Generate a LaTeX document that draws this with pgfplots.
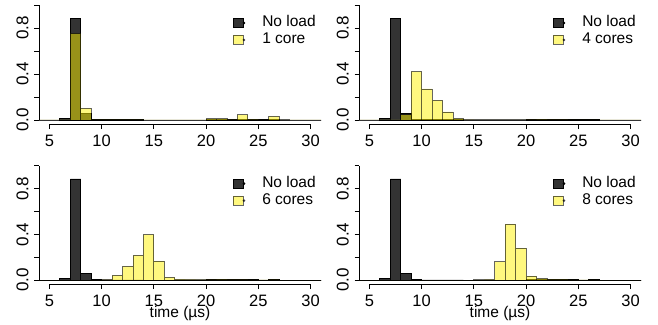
\documentclass[border=0pt]{standalone}
\usepackage{pgfplots}
\pgfplotsset{compat=1.18}
\usepackage{pgfplotstable}
\usepackage{fontspec}
\setmainfont{Liberation Sans}

\pgfplotstableread{
x y
4 0
5 0
6 0.010
7 0.885
8 0.055
9 0.002
10 0.001
11 0.001
12 0.001
13 0.001
14 0
15 0
16 0
17 0
18 0
19 0
20 0.004
21 0.008
22 0.004
23 0.003
24 0.002
25 0.001
26 0.002
27 0
28 0
29 0
30 0
31 0
}\noload

\pgfplotstableread{
x y
4 0
5 0
6 0
7 0.75
8 0.10
9 0
10 0
11 0
12 0
13 0
14 0
15 0
16 0
17 0
18 0
19 0
20 0.010
21 0.010
22 0.003
23 0.045
24 0.006
25 0.002
26 0.032
27 0.002
28 0
29 0
30 0
31 0
}\coreA

\pgfplotstableread{
x y
4 0
5 0
6 0
7 0
8 0.045
9 0.42
10 0.27
11 0.17
12 0.07
13 0.012
14 0.003
15 0.002
16 0.001
17 0.001
18 0.001
19 0.001
20 0.004
21 0.006
22 0.004
23 0.004
24 0.002
25 0.001
26 0.001
27 0
28 0
29 0
30 0
31 0
}\coreB

\pgfplotstableread{
x y
4 0
5 0
6 0
7 0
8 0
9 0
10 0.003
11 0.040
12 0.120
13 0.216
14 0.397
15 0.166
16 0.023
17 0.008
18 0.005
19 0.003
20 0.003
21 0.006
22 0.004
23 0.004
24 0.002
25 0.001
26 0.003
27 0
28 0
29 0
30 0
31 0
}\coreC

\pgfplotstableread{
x y
4 0
5 0
6 0
7 0
8 0
9 0
10 0
11 0
12 0
13 0
14 0
15 0.002
16 0.006
17 0.159
18 0.490
19 0.280
20 0.035
21 0.012
22 0.006
23 0.005
24 0.002
25 0.001
26 0.002
27 0
28 0
29 0
30 0
31 0
}\coreD

\pgfplotsset{
  rpanel/.style={
    scale only axis, width=282pt, clip=false,
    xmin=4, xmax=31, ymin=-0.04, ymax=1.04,
    axis line style={draw=none},
    xtick={5,10,...,30},
    ytick={0,0.4,0.8},
    extra y ticks={0.2,0.6,1.0},
    extra y tick labels={},
    extra y tick style={tick style={black, line width=0.8pt}},
    tick pos=left, tick align=outside,
    major tick length=4.5pt,
    tick style={black, line width=0.8pt},
    /pgf/number format/assume math mode=true,
    yticklabel={\pgfmathprintnumber[fixed,fixed zerofill,precision=1]{\tick}},
    xticklabel style={font=\fontsize{16.5}{16.5}\selectfont, anchor=base, inner sep=0pt, yshift=-17.5pt},
    yticklabel style={font=\fontsize{17}{17}\selectfont, xshift=-6pt, rotate=90, anchor=base, inner sep=0pt},
    legend style={draw=none, fill=none, anchor=west, at={(rel axis cs:0.675,0.75)},
      font=\fontsize{15.5}{15.5}\selectfont, legend cell align=left,
      row sep=1pt, column sep=16pt,
      nodes={inner sep=1pt, text height=11pt, text depth=3pt}},
    xlabel style={at={(rel axis cs:0.5,0)}, anchor=base, yshift=-33pt,
      font=\fontsize{15.5}{15.5}\selectfont},
  },
  darkbar/.style={ybar interval, fill=black, fill opacity=0.8, draw=black, line width=0.8pt,
    legend image code/.code={\draw[fill=black, fill opacity=0.8, draw=black, line width=0.8pt] (0pt,-4.5pt) rectangle (10pt,4.5pt);
      \fill[black] (11pt,0pt) circle (0.9pt);}},
  yelbar/.style={ybar interval, fill=yellow, fill opacity=0.5, draw=black, draw opacity=0.6, line width=0.8pt,
    legend image code/.code={\draw[fill=yellow, fill opacity=0.5, draw=black, line width=0.8pt] (0pt,-4.5pt) rectangle (10pt,4.5pt);
      \fill[black] (11pt,0pt) circle (0.9pt);}},
}

\newcommand{\raxes}{%
  \draw[line width=0.8pt] (axis cs:4,0) -- (axis cs:4,1);
  \draw[line width=0.8pt] (axis cs:5,-0.04) -- (axis cs:30,-0.04);
}

\begin{document}
\begin{tikzpicture}
\useasboundingbox (0,0) rectangle (658pt,324pt);
% top left
\begin{axis}[rpanel, at={(39pt,199.4pt)}, anchor=south west, height=124.2pt]
\addplot[darkbar] table[x=x,y=y] {\noload};
\addlegendentry{No load}
\addplot[yelbar] table[x=x,y=y] {\coreA};
\addlegendentry{1 core}
\raxes
\end{axis}
% top right
\begin{axis}[rpanel, at={(359pt,199.4pt)}, anchor=south west, height=124.2pt]
\addplot[darkbar] table[x=x,y=y] {\noload};
\addlegendentry{No load}
\addplot[yelbar] table[x=x,y=y] {\coreB};
\addlegendentry{4 cores}
\raxes
\end{axis}
% bottom left
\begin{axis}[rpanel, at={(39pt,39.4pt)}, anchor=south west, height=123.3pt, xlabel={time (µs)}]
\addplot[darkbar] table[x=x,y=y] {\noload};
\addlegendentry{No load}
\addplot[yelbar] table[x=x,y=y] {\coreC};
\addlegendentry{6 cores}
\raxes
\end{axis}
% bottom right
\begin{axis}[rpanel, at={(359pt,39.4pt)}, anchor=south west, height=123.3pt, xlabel={time (µs)}]
\addplot[darkbar] table[x=x,y=y] {\noload};
\addlegendentry{No load}
\addplot[yelbar] table[x=x,y=y] {\coreD};
\addlegendentry{8 cores}
\raxes
\end{axis}
\end{tikzpicture}
\end{document}
